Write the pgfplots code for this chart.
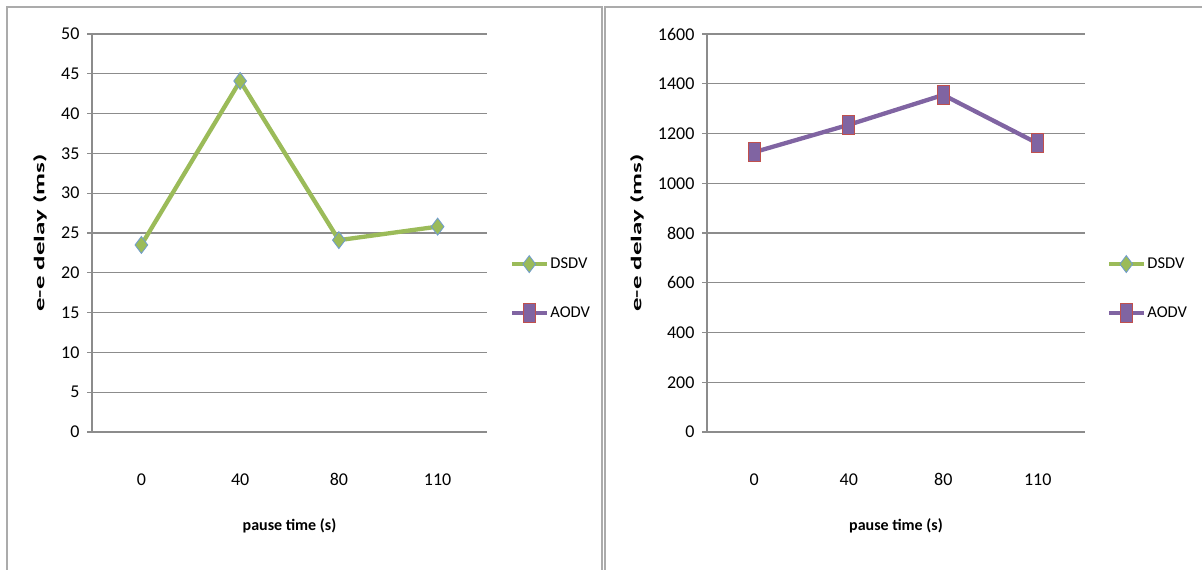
\documentclass[border=0pt]{standalone}
\usepackage{pgfplots}
\pgfplotsset{compat=1.18}
\usepackage{fontspec}
\usepackage{graphicx}
\setmainfont{Carlito}
\definecolor{dsdvgreen}{HTML}{9BBB59}
\definecolor{dsdvedge}{HTML}{6E9BD0}
\definecolor{aodvpurple}{HTML}{8064A2}
\definecolor{aodvedge}{HTML}{C0504D}
\definecolor{gridgray}{HTML}{8C8C8C}
\definecolor{framegray}{HTML}{ABABAB}
\pgfplotsset{
  dsdv/.style={color=dsdvgreen, line width=4.3pt, mark=diamond*, mark size=8.5pt,
    mark options={fill=dsdvgreen, draw=dsdvedge, line width=0.8pt, solid}},
  aodv/.style={color=aodvpurple, line width=4.3pt, mark=square*, mark size=9.5pt,
    mark options={fill=aodvpurple, draw=aodvedge, line width=0.9pt, solid, xscale=0.62}},
  panel/.style={
    scale only axis, anchor=south west, height=398pt,
    xmin=0, xmax=4, xtick={0.5,1.5,2.5,3.5}, xticklabels={0,40,80,110},
    ymin=0,
    axis lines=left, axis line style={-, draw=gridgray, line width=1.3pt},
    ymajorgrids, grid style={draw=gridgray, line width=1.3pt},
    xtick style={draw=none},
    ytick style={draw=gridgray, line width=1.3pt},
    tick align=outside, major tick length=5pt,
    ticklabel style={font=\fontsize{18}{20}\selectfont},
    /pgf/number format/assume math mode=true,
    /pgf/number format/1000 sep={},
    xticklabel style={anchor=base, yshift=-48pt},
    yticklabel style={anchor=east, xshift=-4pt},
    xlabel={\fontsize{16}{18}\selectfont\bfseries pause time (s)},
    xlabel style={at={(axis description cs:0.5,-0.2362)}, anchor=center},
    ylabel={\scalebox{1.8}[1]{\fontsize{15}{17}\selectfont\bfseries e-e delay (ms)}},
    legend style={draw=none, fill=none, font=\fontsize{16.5}{18}\selectfont,
      row sep=31pt, inner sep=0pt, legend cell align=left,
      nodes={inner sep=1pt, anchor=west}},
    legend image code/.code={\draw[mark repeat=2, mark phase=2, #1]
      plot coordinates {(0pt,0pt) (17pt,0pt) (35pt,0pt)};},
  },
}
\begin{document}
\begin{tikzpicture}[x=1pt,y=1pt]
\draw[framegray, line width=1.5pt] (7,0) -- (7,563) -- (602,563) -- (602,0);
\draw[framegray, line width=1.5pt] (605,0) -- (605,563) -- (1202,563);
\begin{axis}[panel, at={(92pt,138pt)}, width=395pt,
  ymax=50, ytick={0,5,...,50},
  ylabel style={at={(axis description cs:-0.1316,0.5)}, anchor=center},
  legend style={at={(axis description cs:1.058,0.359)}, anchor=west}]
\addplot[dsdv] coordinates {(0.5,23.5) (1.5,44.1) (2.5,24.1) (3.5,25.8)};
\addlegendentry{DSDV}
\addlegendimage{aodv}
\addlegendentry{AODV}
\end{axis}
\begin{axis}[panel, at={(707pt,138pt)}, width=378pt,
  ymax=1600, ytick={0,200,...,1600},
  ylabel style={at={(axis description cs:-0.185,0.5)}, anchor=center},
  legend style={at={(axis description cs:1.058,0.359)}, anchor=west}]
\addlegendimage{dsdv}
\addlegendentry{DSDV}
\addplot[aodv] coordinates {(0.5,1125) (1.5,1235) (2.5,1355) (3.5,1160)};
\addlegendentry{AODV}
\end{axis}
\pgfresetboundingbox
\path[use as bounding box] (0,0) rectangle (1202,570);
\end{tikzpicture}
\end{document}
